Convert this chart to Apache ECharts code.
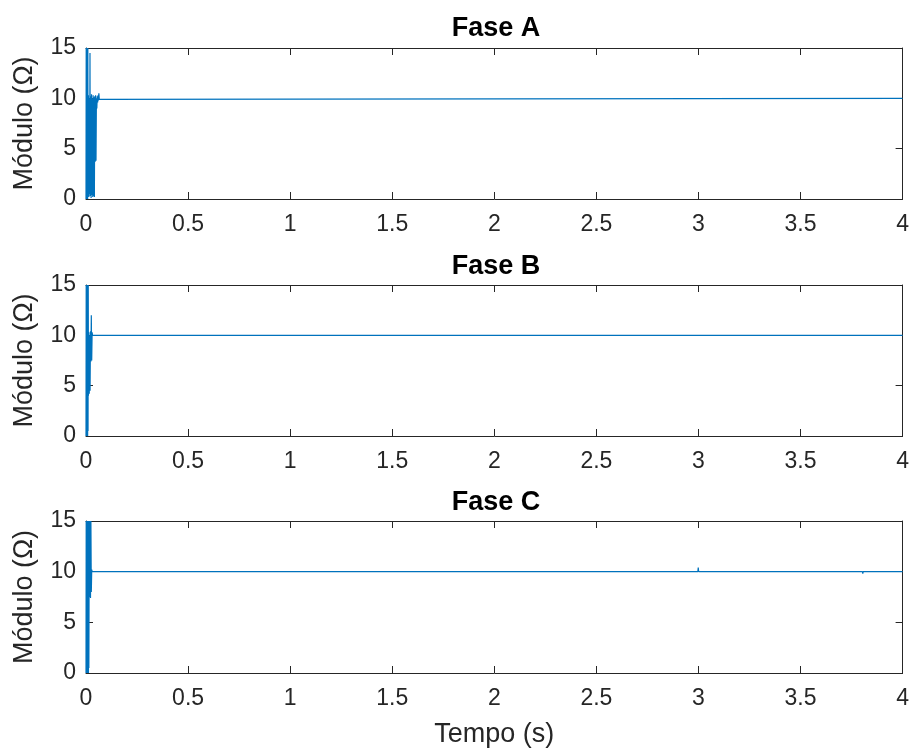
<!DOCTYPE html>
<html>
<head>
<meta charset="utf-8">
<script src="https://cdn.jsdelivr.net/npm/echarts@6/dist/echarts.min.js"></script>
<style>
  html, body { margin: 0; padding: 0; background: #fff; }
  #chart { width: 912px; height: 753px; }
</style>
</head>
<body>
<div id="chart"></div>
<script>
// values (time in s, module in ohm)
var faseA_t = [0, 0.001, 0.002, 0.003, 0.004, 0.005, 0.006, 0.007, 0.008, 0.009, 0.010, 0.012, 0.014, 0.016, 0.018, 0.0195,
    0.021, 0.023, 0.025, 0.027, 0.029, 0.031, 0.033, 0.035, 0.037, 0.039, 0.041, 0.043, 0.045, 0.047, 0.049,
    0.051, 0.053, 0.055, 0.057, 0.059, 0.061, 0.063, 0.065, 0.067, 4];
var faseA_v = [0, 15, 0.2, 15, 0, 15, 0.5, 15, 0, 15, 0.3, 10.3, 0.2, 10, 0.5, 14.5,
    0.3, 10.2, 0.1, 10.4, 0.4, 10, 0.2, 10.3, 0.3, 10.1, 0.2, 10.2, 3.7, 10.3, 3.8,
    10, 9.0, 10.2, 9.6, 10.3, 9.8, 10.5, 9.9, 10, 10];

var faseB_t = [0, 0.001, 0.002, 0.003, 0.004, 0.005, 0.006, 0.007, 0.008, 0.009, 0.010, 0.011, 0.012, 0.014, 0.016,
    0.018, 0.020, 0.022, 0.024, 0.026, 0.028, 0.030, 0.032, 4];
var faseB_v = [0, 15, 0, 15, 0, 15, 0.2, 15, 0, 15, 0.5, 15, 4, 10.3, 4.2,
    10, 4.5, 10.4, 7.4, 12, 7.5, 10.3, 10, 10];

var faseC_t = [0, 0.001, 0.002, 0.003, 0.004, 0.005, 0.006, 0.007, 0.008, 0.009, 0.010, 0.011, 0.012, 0.013, 0.014,
    0.016, 0.018, 0.020, 0.022, 0.024, 0.026, 0.028, 0.030, 2.997, 2.999, 3.001, 3.803, 3.805, 3.807, 4];
var faseC_v = [0, 15, 0, 15, 0, 15, 0.3, 15, 0, 15, 0.2, 15, 0, 15, 0.5,
    15, 7.5, 15, 7.4, 15, 8, 10.2, 10, 10, 10.4, 10, 10, 9.8, 10, 10];

var titulos = ['Fase A', 'Fase B', 'Fase C'];
var xTicks = [0, 4, 0.5];   // min, max, interval
var yTicks = [0, 15, 5];

function pares(t, v){
    var out = [];
    for(var i = 0; i < t.length; i++){
        out.push([t[i], v[i]]);
    }
    return out;
}

var fonte = 'Liberation Sans, Arial, Helvetica, sans-serif';
var corEixo = '#262626';
var tops = [48, 285, 521];
var alturas = [151, 151, 152];
var titleTops = [10, 248, 484];

var grid = [], xAxis = [], yAxis = [], series = [], title = [];
var todos = [pares(faseA_t, faseA_v), pares(faseB_t, faseB_v), pares(faseC_t, faseC_v)];

for(var i = 0; i < 3; i++){
    grid.push({left: 86, top: tops[i], width: 818, height: alturas[i], containLabel: false});
    title.push({
        text: titulos[i], left: 491, top: titleTops[i], textAlign: 'center',
        textStyle: {fontFamily: fonte, fontSize: 27, fontWeight: 'bold', color: '#000'}
    });
    // bottom axis
    xAxis.push({
        type: 'value', gridIndex: i, position: 'bottom',
        min: xTicks[0], max: xTicks[1], interval: xTicks[2],
        name: i == 2 ? 'Tempo (s)' : '', nameLocation: 'middle', nameGap: 48,
        nameTextStyle: {fontFamily: fonte, fontSize: 27, color: corEixo},
        axisLine: {show: true, onZero: false, lineStyle: {color: corEixo, width: 1}},
        axisTick: {show: true, inside: true, length: 7, lineStyle: {color: corEixo}},
        axisLabel: {fontFamily: fonte, fontSize: 23, color: corEixo, margin: 14},
        splitLine: {show: false}
    });
    // top box line
    xAxis.push({
        type: 'value', gridIndex: i, position: 'top',
        min: xTicks[0], max: xTicks[1], interval: xTicks[2],
        axisLine: {show: true, onZero: false, lineStyle: {color: corEixo, width: 1}},
        axisTick: {show: true, inside: true, length: 7, lineStyle: {color: corEixo}},
        axisLabel: {show: false},
        splitLine: {show: false}
    });
    yAxis.push({
        type: 'value', gridIndex: i, position: 'left',
        min: yTicks[0], max: yTicks[1], interval: yTicks[2],
        name: 'Módulo (Ω)', nameLocation: 'middle', nameGap: 48,
        nameTextStyle: {fontFamily: fonte, fontSize: 27, color: corEixo},
        axisLine: {show: true, onZero: false, lineStyle: {color: corEixo, width: 1}},
        axisTick: {show: true, inside: true, length: 7, lineStyle: {color: corEixo}},
        axisLabel: {fontFamily: fonte, fontSize: 23, color: corEixo, margin: 10},
        splitLine: {show: false}
    });
    yAxis.push({
        type: 'value', gridIndex: i, position: 'right',
        min: yTicks[0], max: yTicks[1], interval: yTicks[2],
        axisLine: {show: true, onZero: false, lineStyle: {color: corEixo, width: 1}},
        axisTick: {show: true, inside: true, length: 7, lineStyle: {color: corEixo}},
        axisLabel: {show: false},
        splitLine: {show: false}
    });
    series.push({
        type: 'line', xAxisIndex: i * 2, yAxisIndex: i * 2,
        data: todos[i], showSymbol: false, symbol: 'none', sampling: null,
        clip: true, animation: false,
        lineStyle: {color: '#0072BD', width: 1.2}
    });
}

var myChart = echarts.init(document.getElementById('chart'));
var option = {
    backgroundColor: '#fff',
    animation: false,
    title: title,
    grid: grid,
    xAxis: xAxis,
    yAxis: yAxis,
    series: series
};
myChart.setOption(option);
</script>
</body>
</html>
